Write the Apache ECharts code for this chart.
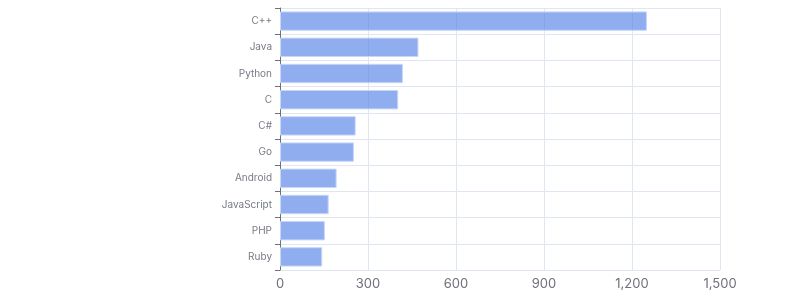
<!DOCTYPE html>
<html>
<head>
<meta charset="utf-8">
<script src="https://cdn.jsdelivr.net/npm/echarts@6/dist/echarts.min.js"></script>
<style>html,body{margin:0;padding:0;background:#fff}#c{width:800px;height:300px}</style>
</head>
<body>
<div id="c"></div>
<script>
const categories = ['C++', 'Java', 'Python', 'C', 'C#', 'Go', 'Android', 'JavaScript', 'PHP', 'Ruby'];
const values = [1251, 472, 419, 403, 258, 252, 193, 166, 153, 144];
const xTicks = { min: 0, max: 1500, interval: 300 };

const chart = echarts.init(document.getElementById('c'), null, { renderer: 'canvas' });
chart.setOption({
  animation: false,
  grid: { left: 280, right: 80, top: 8, bottom: 30, containLabel: false },
  xAxis: {
    type: 'value',
    min: xTicks.min, max: xTicks.max, interval: xTicks.interval,
    axisLine: { show: false },
    axisTick: { show: false },
    axisLabel: { color: '#6E7079', fontSize: 13, fontFamily: 'Inter', margin: 8 },
    splitLine: { show: true, lineStyle: { color: '#E0E6F1' } }
  },
  yAxis: {
    type: 'category',
    data: categories,
    inverse: true,
    axisLine: { show: true, lineStyle: { color: '#6E7079' } },
    axisTick: { show: true, length: 5, lineStyle: { color: '#6E7079' } },
    axisLabel: { color: '#777b84', fontSize: 10, fontFamily: 'Inter', margin: 8 },
    splitLine: { show: true, lineStyle: { color: '#E0E6F1' } }
  },
  series: [{
    type: 'bar',
    data: values,
    barCategoryGap: '26%',
    itemStyle: {
      color: 'rgba(84,129,230,0.65)',
      borderColor: 'rgba(200,215,248,1)',
      borderWidth: 1
    }
  }]
});
</script>
</body>
</html>
